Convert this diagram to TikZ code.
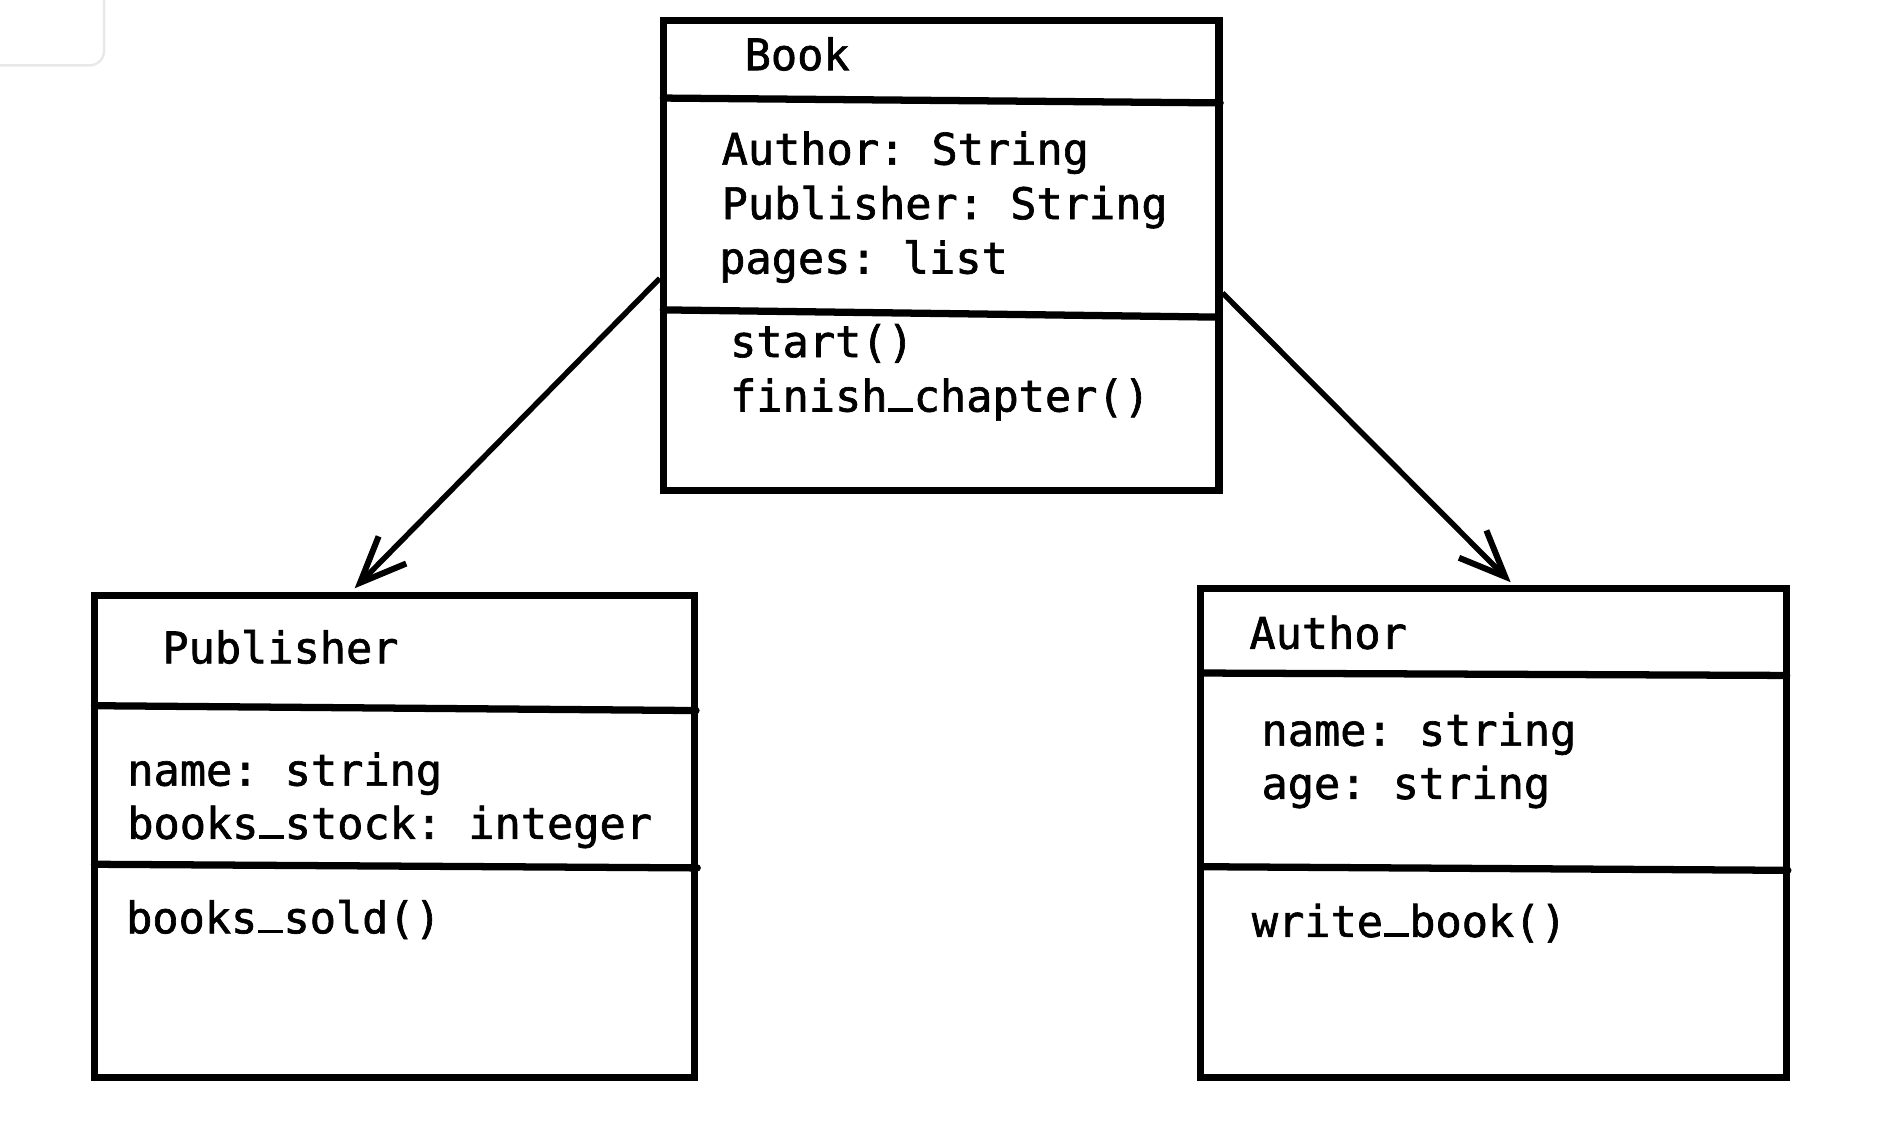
\documentclass[tikz,border=0pt]{standalone}
\usepackage{fontspec}
\setmonofont[BoldFont={DejaVu Sans Mono}, BoldFeatures={FakeBold=1.5}]{DejaVu Sans Mono}
\usetikzlibrary{arrows.meta}

\newcommand{\baseus}{\makebox[0.602em][c]{\rule{0.58em}{0.08em}}}

\begin{document}
\begin{tikzpicture}[x=1pt, y=-1pt,
        classbox/.style={draw, rectangle, line width=6pt, inner sep=0pt},
        member/.style={anchor=base west, inner sep=0pt, font=\ttfamily\bfseries\fontsize{36}{45}\selectfont},
        divider/.style={line width=6pt, line cap=round},
        assoc/.style={line width=4.5pt, -{Straight Barb[length=38pt, width=32pt, line width=5pt]}}]
        \useasboundingbox (0,0) rectangle (1568,935);

        % Corner panel
        \draw[black!9, line width=2pt, rounded corners=12pt, fill=white] (-30,-30) rectangle (86,54);

        % Draw classes
        \node[classbox, minimum width=459pt, minimum height=388pt] (book) at (777.5, 211) {};
        \node[classbox, minimum width=496pt, minimum height=398pt] (publisher) at (326, 691) {};
        \node[classbox, minimum width=484pt, minimum height=404pt] (author) at (1234, 688) {};

        % Draw dividers
        \draw[divider] (548, 81) -- (1008, 85);
        \draw[divider] (548, 256) -- (1007, 262);
        \draw[divider] (78, 583) -- (575, 587);
        \draw[divider] (78, 714) -- (576, 717);
        \draw[divider] (992, 556) -- (1476, 558);
        \draw[divider] (992, 716) -- (1477, 719);

        % Book
        \node[member] (book-name) at (615, 58) {Book};
        \node[member] (book-a1) at (596, 136) {Author: String};
        \node[member] (book-a2) at (596, 181) {Publisher: String};
        \node[member] (book-a3) at (594, 226) {pages: list};
        \node[member] (book-m1) at (603, 295) {start()};
        \node[member] (book-m2) at (603, 340) {finish\baseus chapter()};

        % Publisher
        \node[member] (pub-name) at (134, 548) {Publisher};
        \node[member] (pub-a1) at (105, 649) {name: string};
        \node[member] (pub-a2) at (105, 693) {books\baseus stock: integer};
        \node[member] (pub-m1) at (104, 771) {books\baseus sold()};

        % Author
        \node[member] (auth-name) at (1032, 536) {Author};
        \node[member] (auth-a1) at (1042, 616) {name: string};
        \node[member] (auth-a2) at (1042, 660) {age: string};
        \node[member] (auth-m1) at (1034, 774) {write\baseus book()};

        % Draw arrows
        \draw[assoc] ([yshift=-19pt]book.west) -- ([xshift=-33pt, yshift=3pt]publisher.north);
        \draw[assoc] ([yshift=-31pt]book.east) -- ([xshift=14pt, yshift=2pt]author.north);
\end{tikzpicture}
\end{document}
